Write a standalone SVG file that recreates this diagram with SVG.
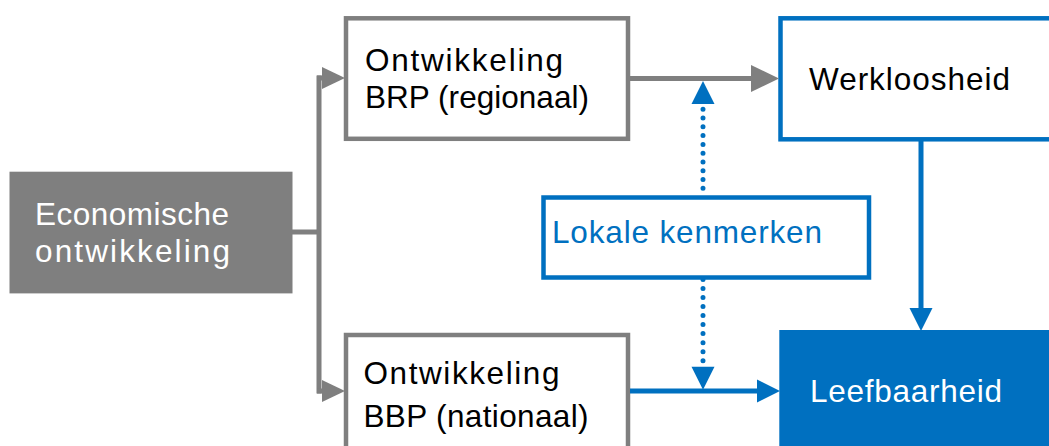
<svg xmlns="http://www.w3.org/2000/svg" width="1049" height="446" viewBox="0 0 1049 446">
  <style>
    text { font-family: "Liberation Sans", Arial, sans-serif; font-size: 31.5px; }
    .dark { fill: #000000; }
    .white { fill: #ffffff; }
    .blue { fill: #0070c0; }
    .gbox { fill: #ffffff; stroke: #7f7f7f; stroke-width: 4.5; }
    .bbox { fill: #ffffff; stroke: #0070c0; stroke-width: 4.5; }
    .gline { fill: none; stroke: #7f7f7f; stroke-width: 5; }
    .bline { fill: none; stroke: #0070c0; stroke-width: 5; }
    .dots { fill: none; stroke: #0070c0; stroke-width: 5; stroke-linecap: round; }
  </style>
  <defs>
    <marker id="ag" markerUnits="userSpaceOnUse" markerWidth="30" markerHeight="30" refX="0" refY="11" orient="auto" overflow="visible">
      <path d="M0,0 L23,11 L0,22 z" fill="#7f7f7f"/>
    </marker>
    <marker id="agL" markerUnits="userSpaceOnUse" markerWidth="30" markerHeight="30" refX="0" refY="13.5" orient="auto" overflow="visible">
      <path d="M0,0 L28,13.5 L0,27 z" fill="#7f7f7f"/>
    </marker>
    <marker id="ab" markerUnits="userSpaceOnUse" markerWidth="30" markerHeight="30" refX="0" refY="11.5" orient="auto" overflow="visible">
      <path d="M0,0 L23,11.5 L0,23 z" fill="#0070c0"/>
    </marker>
  </defs>

  <g id="node-economische">
    <rect x="9.5" y="171.7" width="283" height="121.7" fill="#7f7f7f"/>
    <text class="white" x="35" y="225" textLength="194" lengthAdjust="spacing">Economische</text>
    <text class="white" x="35" y="262" textLength="195" lengthAdjust="spacing">ontwikkeling</text>
  </g>

  <g id="node-brp">
    <rect class="gbox" x="346" y="18.3" width="282" height="120.5"/>
    <text class="dark" x="365" y="71" textLength="198" lengthAdjust="spacing">Ontwikkeling</text>
    <text class="dark" x="365" y="107.5" textLength="224" lengthAdjust="spacing">BRP (regionaal)</text>
  </g>

  <g id="node-bbp">
    <rect class="gbox" x="346" y="335" width="282" height="130"/>
    <text class="dark" x="363.5" y="384" textLength="196" lengthAdjust="spacing">Ontwikkeling</text>
    <text class="dark" x="363.5" y="426.5" textLength="225" lengthAdjust="spacing">BBP (nationaal)</text>
  </g>

  <g id="node-werkloosheid">
    <rect class="bbox" x="780.5" y="18.3" width="290" height="121"/>
    <text class="dark" x="809" y="90" textLength="201" lengthAdjust="spacing">Werkloosheid</text>
  </g>

  <g id="node-lokale">
    <rect class="bbox" x="543.5" y="197.5" width="325.5" height="80"/>
    <text class="blue" x="552" y="243.3" textLength="270" lengthAdjust="spacing">Lokale kenmerken</text>
  </g>

  <g id="node-leefbaarheid">
    <rect x="779.3" y="330" width="280" height="130" fill="#0070c0"/>
    <text class="white" x="810" y="401.7" textLength="192" lengthAdjust="spacing">Leefbaarheid</text>
  </g>

  <g id="connectors">
    <path class="gline" d="M292,232 H319"/>
    <path class="gline" d="M319,75.5 V393.5"/>
    <path class="gline" d="M317,78 H322" marker-end="url(#ag)"/>
    <path class="gline" d="M317,391 H322" marker-end="url(#ag)"/>
    <path class="gline" d="M630,78.5 H751" marker-end="url(#agL)"/>
    <path class="bline" d="M630,391 H757" marker-end="url(#ab)"/>
    <path class="bline" d="M921,141 V308" marker-end="url(#ab)"/>
    <path class="dots" d="M703,188.3 V104" stroke-dasharray="0 8.78" marker-end="url(#ab)"/>
    <path class="dots" d="M703,279.5 V366.7" stroke-dasharray="0 9.02" marker-end="url(#ab)"/>
  </g>
</svg>
